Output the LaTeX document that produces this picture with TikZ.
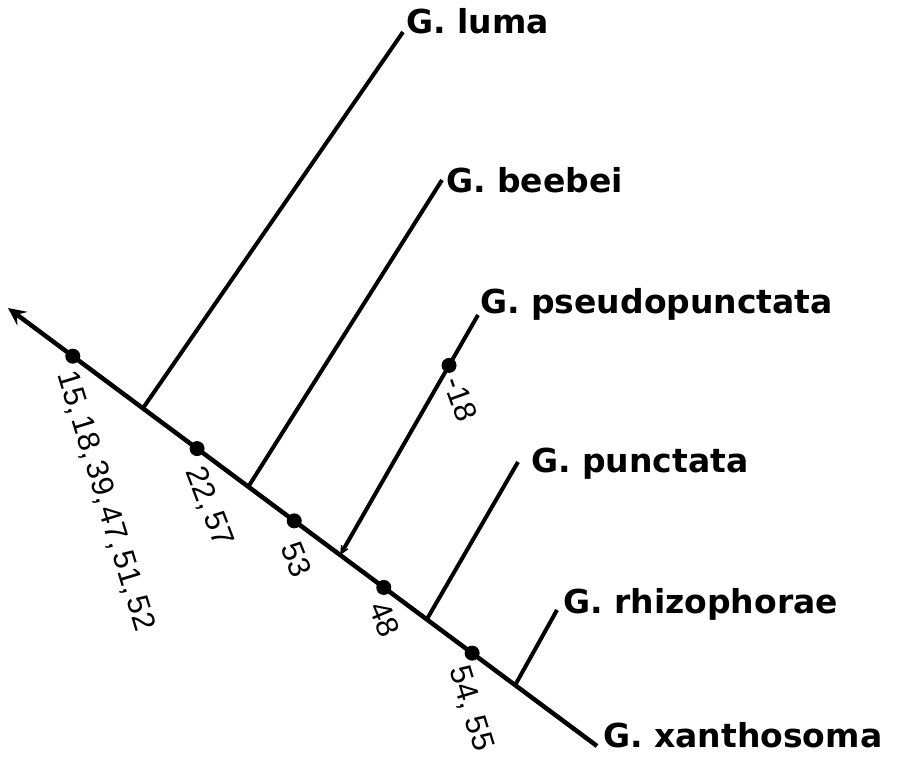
\documentclass[tikz,border=0pt]{standalone}
\usepackage{fontspec}
\setmainfont{DejaVu Sans}
\newfontfamily\numfont{Liberation Sans}
\usetikzlibrary{calc,arrows.meta}
\begin{document}
\begin{tikzpicture}[x=1pt,y=-1pt,
  mainline/.style={line width=4.5pt},
  branch/.style={line width=4pt},
  dotmark/.style={circle,fill=black,inner sep=0pt,minimum size=15pt},
  taxon/.style={font=\fontsize{33}{36}\selectfont\bfseries,anchor=base west,inner sep=0pt},
  charlab/.style={font=\numfont\fontsize{31}{34}\selectfont,anchor=west,inner sep=0pt,rotate=-70}]
\useasboundingbox (0,0) rectangle (903,765);
\coordinate (m0) at (8,308);
\coordinate (m1) at (597,746);
% branch bases on the main line
\coordinate (b1) at ($(m0)!0.229!(m1)$);
\coordinate (b2) at ($(m0)!0.408!(m1)$);
\coordinate (b3) at ($(m0)!0.564!(m1)$);
\coordinate (b4) at ($(m0)!0.711!(m1)$);
\coordinate (b5) at ($(m0)!0.861!(m1)$);
% branch tops
\coordinate (t1) at (403,32);
\coordinate (t2) at (442,180);
\coordinate (t3) at (478,315);
\coordinate (t4) at (518,462);
\coordinate (t5) at (557,610);
% taxa
\node[taxon] (luma) at (406,34) {G. luma};
\node[taxon] (beebei) at (446,193) {G. beebei};
\node[taxon] (pseudo) at (480,313) {G. pseudopunctata};
\node[taxon] (punct) at (531,472) {G. punctata};
\node[taxon] (rhizo) at (563,613) {G. rhizophorae};
\node[taxon] (xantho) at (603,747) {G. xanthosoma};
% main line and branches
\draw[mainline,{Stealth[length=18pt,width=17pt,inset=7pt]}-] (m0) -- (m1);
\draw[branch] (b1) -- (t1);
\draw[branch] (b2) -- (t2);
\draw[branch,-{Stealth[length=16pt,width=15pt,inset=11pt]}] (t3) -- (b3);
\draw[branch] (b4) -- (t4);
\draw[branch] (b5) -- (t5);
% character dots
\node[dotmark] (d1) at ($(m0)!0.110!(m1)$) {};
\node[dotmark] (d2) at ($(m0)!0.321!(m1)$) {};
\node[dotmark] (d3) at ($(m0)!0.486!(m1)$) {};
\node[dotmark] (d4) at ($(m0)!0.638!(m1)$) {};
\node[dotmark] (d5) at ($(m0)!0.788!(m1)$) {};
\node[dotmark] (d6) at ($(b3)!0.79!(t3)$) {};
% character labels
\node[charlab,rotate=-3] (l1) at (66,372) {15,\kern4pt18,\kern4pt39,\kern4pt47,\kern4pt51,\kern4pt52};
\node[charlab,rotate=1] (l2) at (194,468) {22,\kern5pt57};
\node[charlab,rotate=2] (l3) at (290,543) {53};
\node[charlab,rotate=3] (l4) at (378,603) {48};
\node[charlab,rotate=-3] (l5) at (458,667) {54,\kern9pt55};
\node[charlab] (l6) at (453,378) {-18};
\end{tikzpicture}
\end{document}
